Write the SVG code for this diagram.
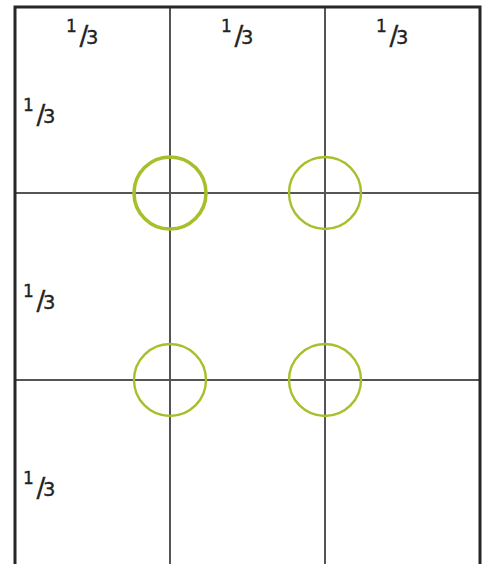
<svg xmlns="http://www.w3.org/2000/svg" width="485" height="564" viewBox="0 0 485 564">
<style>
.frame{fill:none;stroke:#262626;stroke-width:3}
.grid{stroke:#555;stroke-width:2}
.pt{fill:none;stroke:#a6c02c;stroke-width:2.4}
.lbl{font-family:"DejaVu Sans",sans-serif;fill:#222;stroke:#222;stroke-width:0.35}
.n{font-size:17px}
.s{font-size:26px}
.d{font-size:19.5px}
</style>
<rect width="485" height="564" fill="#fff"/>
<g id="connectors">
<line class="grid" x1="170" y1="7" x2="170" y2="564"/>
<line class="grid" x1="325" y1="7" x2="325" y2="564"/>
<line class="grid" x1="15" y1="193" x2="480" y2="193"/>
<line class="grid" x1="15" y1="380" x2="480" y2="380"/>
<path class="frame" d="M15,564 V7 H480 V564"/>
</g>
<g id="point-1"><circle class="pt" cx="170" cy="193" r="36" style="stroke-width:3.6"/></g>
<g id="point-2"><circle class="pt" cx="325" cy="193" r="36"/></g>
<g id="point-3"><circle class="pt" cx="170" cy="380" r="36"/></g>
<g id="point-4"><circle class="pt" cx="325" cy="380" r="36"/></g>
<g id="labels" class="lbl">
<text id="col-1"><tspan class="n" x="66" y="31.5">1</tspan><tspan class="s" x="79.5" y="44.5">/</tspan><tspan class="d" x="86" y="44">3</tspan></text>
<text id="col-2"><tspan class="n" x="221" y="31.5">1</tspan><tspan class="s" x="234.5" y="44.5">/</tspan><tspan class="d" x="241" y="44">3</tspan></text>
<text id="col-3"><tspan class="n" x="376" y="31.5">1</tspan><tspan class="s" x="389.5" y="44.5">/</tspan><tspan class="d" x="396" y="44">3</tspan></text>
<text id="row-1"><tspan class="n" x="23" y="110.5">1</tspan><tspan class="s" x="36.5" y="123.5">/</tspan><tspan class="d" x="43" y="123">3</tspan></text>
<text id="row-2"><tspan class="n" x="23" y="296.5">1</tspan><tspan class="s" x="36.5" y="309.5">/</tspan><tspan class="d" x="43" y="309">3</tspan></text>
<text id="row-3"><tspan class="n" x="23" y="483.5">1</tspan><tspan class="s" x="36.5" y="496.5">/</tspan><tspan class="d" x="43" y="496">3</tspan></text>
</g>
</svg>
